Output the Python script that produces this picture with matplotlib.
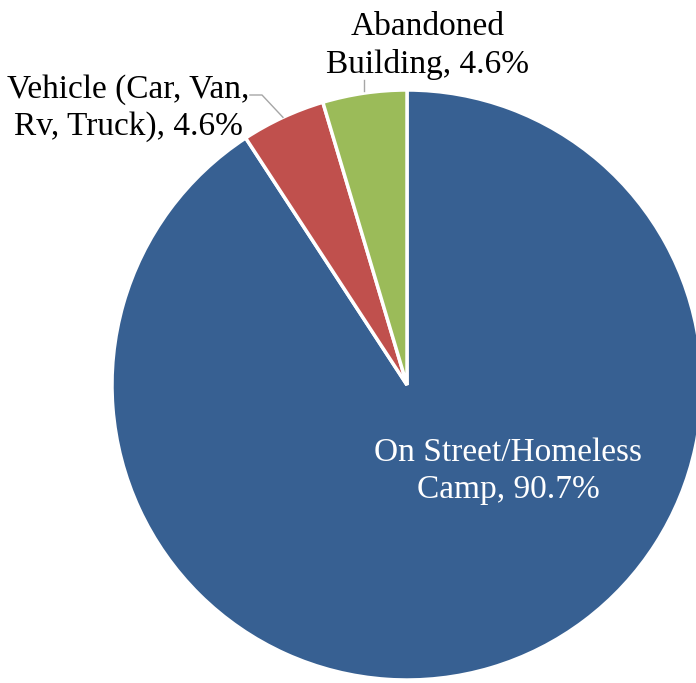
import numpy as np
import matplotlib.pyplot as plt

# where people were found
categories = ['On Street/Homeless\nCamp', 'Vehicle (Car, Van,\nRv, Truck)', 'Abandoned\nBuilding']
shares = [90.7, 4.6, 4.6]
colors = ['#376092', '#C0504D', '#9BBB59']

fig = plt.figure(figsize=(6.96, 6.83), dpi=100)
ax = fig.add_axes([0, 0, 1, 1])

cx, cy, r = 407, 298, 295
wedges, _ = ax.pie(shares, colors=colors, startangle=90, counterclock=False,
                   center=(cx, cy), radius=r, frame=True,
                   wedgeprops=dict(edgecolor='white', linewidth=2.5))
ax.set_xlim(0, 696)
ax.set_ylim(0, 683)
ax.set_aspect('equal')
ax.axis('off')

font = dict(family='Liberation Serif', fontsize=24)

def mid_angle(w):
    return np.deg2rad((w.theta1 + w.theta2) / 2)

# inside label for the big slice
ax.text(cx + 101, cy - 86, f'{categories[0]}, {shares[0]}%', color='white',
        ha='center', va='center', linespacing=1.28, **font)

# red slice label with leader line
a = mid_angle(wedges[1])
tip = (cx + r * np.cos(a), cy + r * np.sin(a))
ax.plot([250, 262, tip[0]], [683 - 95, 683 - 95, tip[1]], color='#A6A6A6', lw=1)
ax.text(128, 683 - 108, f'{categories[1]}, {shares[1]}%', ha='center', va='center',
        linespacing=1.28, **font)

# green slice label with leader line
a = mid_angle(wedges[2])
tip = (cx + r * np.cos(a), cy + r * np.sin(a))
ax.plot([tip[0], tip[0]], [tip[1] + 2, 683 - 80], color='#A6A6A6', lw=1)
ax.text(428, 683 - 46, f'{categories[2]}, {shares[2]}%', ha='center', va='center',
        linespacing=1.28, **font)

fig.savefig('out.png', dpi=100)
